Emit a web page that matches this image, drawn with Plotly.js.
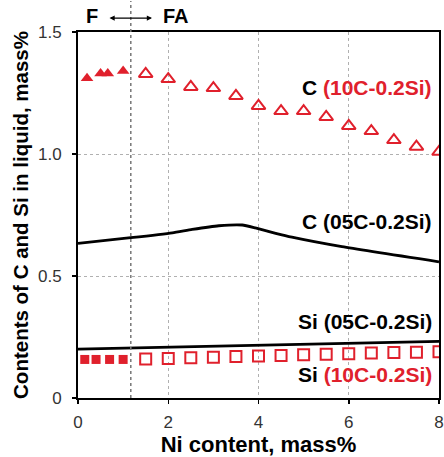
<!DOCTYPE html>
<html>
<head>
<meta charset="utf-8">
<script src="https://cdn.plot.ly/plotly-3.0.1.min.js"></script>
<style>html,body{margin:0;padding:0;background:#fff;}#chart{width:444px;height:457px;}</style>
</head>
<body>
<div id="chart"></div>
<script>
// C content, 10C-0.2Si, F region (filled triangles)
const niC10F = [0.2, 0.5, 0.66, 1.0];
const cC10F = [1.31, 1.33, 1.33, 1.34];
// C content, 10C-0.2Si, FA region (open triangles)
const niC10FA = [1.5, 2.0, 2.5, 3.0, 3.5, 4.0, 4.5, 5.0, 5.5, 6.0, 6.5, 7.0, 7.5, 8.0];
const cC10FA = [1.328, 1.307, 1.275, 1.27, 1.238, 1.197, 1.176, 1.176, 1.152, 1.115, 1.094, 1.057, 1.03, 1.009];
// Si content, 10C-0.2Si, F region (filled squares)
const niSi10F = [0.15, 0.4, 0.7, 1.0];
const siSi10F = [0.158, 0.158, 0.158, 0.158];
// Si content, 10C-0.2Si, FA region (open squares)
const niSi10FA = [1.5, 2.0, 2.5, 3.0, 3.5, 4.0, 4.5, 5.0, 5.5, 6.0, 6.5, 7.0, 7.5, 8.0];
const siSi10FA = [0.16, 0.162, 0.165, 0.167, 0.17, 0.172, 0.174, 0.177, 0.179, 0.181, 0.184, 0.186, 0.188, 0.19];
// C content, 05C-0.2Si (calculated curve)
const niC05 = [0, 1.17, 2.09, 2.53, 3.12, 3.64, 3.93, 4.38, 4.74, 5.85, 8.0];
const cC05 = [0.634, 0.657, 0.677, 0.691, 0.706, 0.709, 0.697, 0.675, 0.659, 0.62, 0.558];
// Si content, 05C-0.2Si (calculated curve)
const niSi05 = [0, 8.0];
const siSi05 = [0.2, 0.232];
// Phase boundary F / FA
const boundaryNi = 1.17;
const xTicks = [0, 2, 4, 6, 8];
const yTicks = [0, 0.5, 1.0, 1.5];

const RED = '#e0202c';
const traces = [
  {x: niC05, y: cC05, mode: 'lines', line: {color: '#000', width: 2.8, shape: 'spline', smoothing: 0.5}, hoverinfo: 'none'},
  {x: niSi05, y: siSi05, mode: 'lines', line: {color: '#000', width: 2.8}, hoverinfo: 'none'},
  {x: niC10F, y: cC10F, mode: 'markers', marker: {symbol: 'triangle-up', size: 11, color: RED}},
  {x: niC10FA, y: cC10FA, mode: 'markers', marker: {symbol: 'triangle-up-open', size: 12, color: RED, line: {width: 2, color: RED}}},
  {x: niSi10F, y: siSi10F, mode: 'markers', marker: {symbol: 'square', size: 9, color: RED}},
  {x: niSi10FA, y: siSi10FA, mode: 'markers', marker: {symbol: 'square-open', size: 11, color: RED, line: {width: 2, color: RED}}}
];

const font = 'Liberation Sans, Arial, sans-serif';
const layout = {
  width: 444, height: 457,
  margin: {l: 78, r: 5, t: 32, b: 59},
  showlegend: false,
  paper_bgcolor: '#fff', plot_bgcolor: '#fff',
  font: {family: font, color: '#000'},
  xaxis: {
    range: [0, 8], tickvals: xTicks, ticktext: xTicks.map(String),
    showgrid: true, gridcolor: '#b0b0b0', griddash: 'dot', gridwidth: 1,
    zeroline: false, showline: true, linecolor: '#000', linewidth: 2, mirror: true,
    ticks: 'outside', ticklen: 4, tickcolor: '#000', tickwidth: 1.5,
    ticklabeloverflow: 'allow', ticklabelstandoff: 4,
    tickfont: {size: 17, color: '#333', family: font},
    title: {text: '<b>Ni content, mass%</b>', font: {size: 22, color: '#000', family: font}, standoff: 4}
  },
  yaxis: {
    range: [0, 1.5], tickvals: yTicks, ticktext: ['0', '0.5', '1.0', '1.5'],
    showgrid: true, gridcolor: '#b0b0b0', griddash: 'dot', gridwidth: 1,
    zeroline: false, showline: true, linecolor: '#000', linewidth: 2, mirror: true,
    ticks: 'outside', ticklen: 4, tickcolor: '#000', tickwidth: 1.5,
    ticklabeloverflow: 'allow', ticklabelstandoff: 7,
    tickfont: {size: 17, color: '#333', family: font},
    title: {text: '<b>Contents of C and Si in liquid, mass%</b>', font: {size: 20.5, color: '#000', family: font}, standoff: 4}
  },
  shapes: [
    {type: 'line', xref: 'x', yref: 'paper', x0: boundaryNi, x1: boundaryNi, y0: 0, y1: 1.085,
     line: {color: '#777', width: 1.5, dash: 'dot'}}
  ],
  annotations: [
    {xref: 'paper', yref: 'paper', x: 0.985, y: 0.847, xanchor: 'right', yanchor: 'middle', showarrow: false,
     text: '<b>C <span style="color:' + RED + '">(10C-0.2Si)</span></b>', font: {size: 21, family: font, color: '#000'}},
    {xref: 'paper', yref: 'paper', x: 0.985, y: 0.481, xanchor: 'right', yanchor: 'middle', showarrow: false,
     text: '<b>C (05C-0.2Si)</b>', font: {size: 21, family: font, color: '#000'}},
    {xref: 'paper', yref: 'paper', x: 0.985, y: 0.208, xanchor: 'right', yanchor: 'middle', showarrow: false,
     text: '<b>Si (05C-0.2Si)</b>', font: {size: 21, family: font, color: '#000'}},
    {xref: 'paper', yref: 'paper', x: 0.985, y: 0.063, xanchor: 'right', yanchor: 'middle', showarrow: false,
     text: '<b>Si <span style="color:' + RED + '">(10C-0.2Si)</span></b>', font: {size: 21, family: font, color: '#000'}},
    {xref: 'paper', yref: 'paper', x: 0.04, y: 1.043, xanchor: 'center', yanchor: 'middle', showarrow: false,
     text: '<b>F</b>', font: {size: 20, family: font, color: '#000'}},
    {xref: 'paper', yref: 'paper', x: 0.272, y: 1.043, xanchor: 'center', yanchor: 'middle', showarrow: false,
     text: '<b>FA</b>', font: {size: 20, family: font, color: '#000'}},
    {xref: 'paper', yref: 'paper', x: 0.205, y: 1.038, axref: 'pixel', ayref: 'pixel', ax: -44, ay: 0,
     text: '', showarrow: true, arrowside: 'end+start', arrowhead: 2, arrowsize: 0.8, arrowwidth: 1.3, arrowcolor: '#000'}
  ]
};

Plotly.newPlot('chart', traces, layout, {staticPlot: true});
</script>
</body>
</html>
